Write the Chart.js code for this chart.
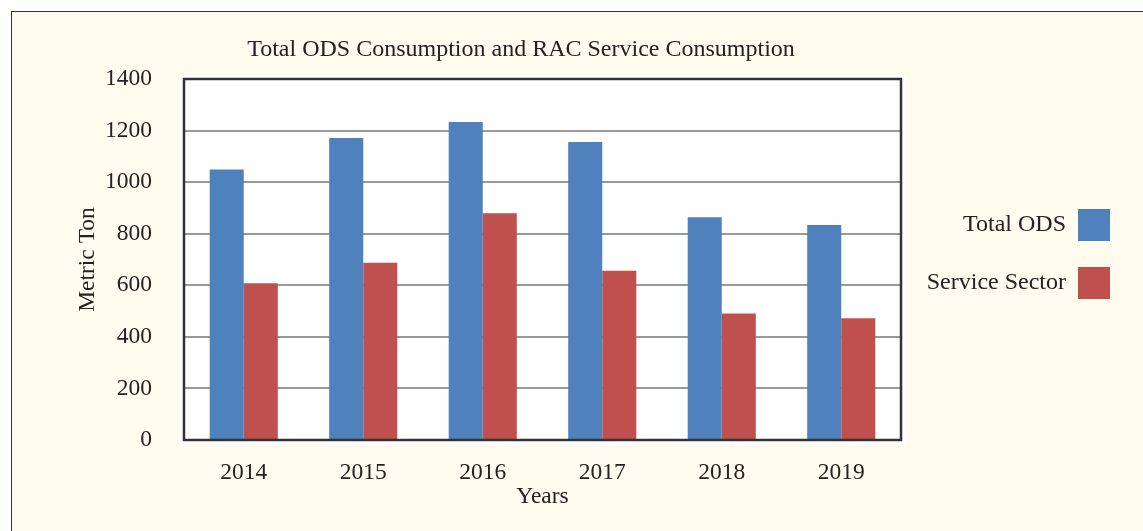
<!DOCTYPE html>
<html>
<head>
<meta charset="utf-8">
<script src="https://cdn.jsdelivr.net/npm/chart.js@4.4.1/dist/chart.umd.min.js"></script>
<style>
  html, body { margin: 0; padding: 0; background: #ffffff; width: 1143px; height: 531px; overflow: hidden; }
  #frame { position: absolute; left: 11px; top: 11px; width: 1140px; height: 530px; background: #FFFCEF;
           border-top: 1.5px solid #333; border-left: 1.5px solid #333; }
  #wrap { position: absolute; left: 0; top: 0; width: 1143px; height: 531px; }
</style>
</head>
<body>
<div id="frame"></div>
<div id="wrap"><canvas id="c" width="1143" height="531" style="width:1143px;height:531px"></canvas></div>
<script>
// ---- data ----
const years = ['2014', '2015', '2016', '2017', '2018', '2019'];
const totalODS = [1049, 1171, 1233, 1156, 864, 834];
const serviceSector = [608, 687, 879, 656, 491, 472];
const seriesNames = ['Total ODS', 'Service Sector'];
const yMin = 0, yMax = 1400, yStep = 200;
const chartTitle = 'Total ODS Consumption and RAC Service Consumption';
const xTitle = 'Years';
const yTitle = 'Metric Ton';

const SERIF = "'Liberation Serif', 'Times New Roman', serif";
const TEXT = '#222222';
const PLOT_RIGHT = 901;   // right edge of the plot frame
const PAD_RIGHT = 7;

// white plot background (behind grid)
const plotBg = {
  id: 'plotBg',
  beforeDraw(chart) {
    const a = chart.chartArea, ctx = chart.ctx;
    ctx.save();
    ctx.fillStyle = '#ffffff';
    ctx.fillRect(a.left - 5, a.top - 4, a.right - a.left + 10, a.bottom - a.top + 10);
    ctx.restore();
  }
};

// dark frame around the plot, title placement, legend width
const plotFrame = {
  id: 'plotFrame',
  beforeLayout(chart) {
    const lg = chart.legend;
    if (lg && !lg.__fixed) {
      const orig = lg.fit;
      lg.fit = function () {
        orig.call(this);
        this.width = chart.width - PAD_RIGHT - PLOT_RIGHT;
      };
      lg.__fixed = true;
    }
  },
  afterLayout(chart) {
    const t = chart.titleBlock;
    if (t) { t.left = 521 - 400; t.right = 521 + 400; }
  },
  afterDatasetsDraw(chart) {
    const a = chart.chartArea, ctx = chart.ctx;
    ctx.save();
    ctx.strokeStyle = '#333333';
    ctx.lineWidth = 2.5;
    ctx.strokeRect(a.left, a.top, a.right - a.left, a.bottom - a.top);
    ctx.restore();
  }
};

new Chart(document.getElementById('c'), {
  type: 'bar',
  data: {
    labels: years,
    datasets: [
      { label: seriesNames[0], data: totalODS, backgroundColor: '#4F81BD', borderWidth: 0 },
      { label: seriesNames[1], data: serviceSector, backgroundColor: '#C0504D', borderWidth: 0 }
    ]
  },
  options: {
    responsive: false,
    animation: false,
    devicePixelRatio: 1,
    layout: { padding: { left: 60, right: PAD_RIGHT, top: 0, bottom: 0 } },
    datasets: { bar: { categoryPercentage: 0.57, barPercentage: 1.0 } },
    plugins: {
      title: {
        display: true,
        text: chartTitle,
        color: TEXT,
        font: { family: SERIF, size: 24, weight: 'normal' },
        padding: { top: 35.6, bottom: 14.6 }
      },
      legend: {
        position: 'right',
        align: 'start',
        fullSize: false,
        rtl: true,
        title: { display: true, text: ' ', font: { size: 10, lineHeight: 1 }, padding: { top: 94, bottom: 0 } },
        labels: {
          color: TEXT,
          font: { family: SERIF, size: 24 },
          boxWidth: 32,
          boxHeight: 32,
          padding: 26
        }
      },
      tooltip: { enabled: false }
    },
    scales: {
      x: {
        grid: { display: false, drawTicks: false },
        border: { display: false },
        ticks: { color: TEXT, font: { family: SERIF, size: 23.5 }, padding: 19, maxRotation: 0 },
        title: { display: true, text: xTitle, color: TEXT, font: { family: SERIF, size: 23.5 }, padding: { top: 0, bottom: 20 } },
        afterFit(s) { s.height = 91; }
      },
      y: {
        min: yMin, max: yMax,
        grid: { color: '#999999', lineWidth: 2, drawTicks: false },
        border: { display: false },
        ticks: {
          stepSize: yStep, color: TEXT, font: { family: SERIF, size: 23.5 }, padding: 32,
          callback: (v) => String(v)
        },
        title: { display: true, text: yTitle, color: TEXT, font: { family: SERIF, size: 23.5 }, padding: { top: 14, bottom: 0 } },
        afterFit(s) { s.width = 124; }
      }
    }
  },
  plugins: [plotBg, plotFrame]
});
</script>
</body>
</html>
